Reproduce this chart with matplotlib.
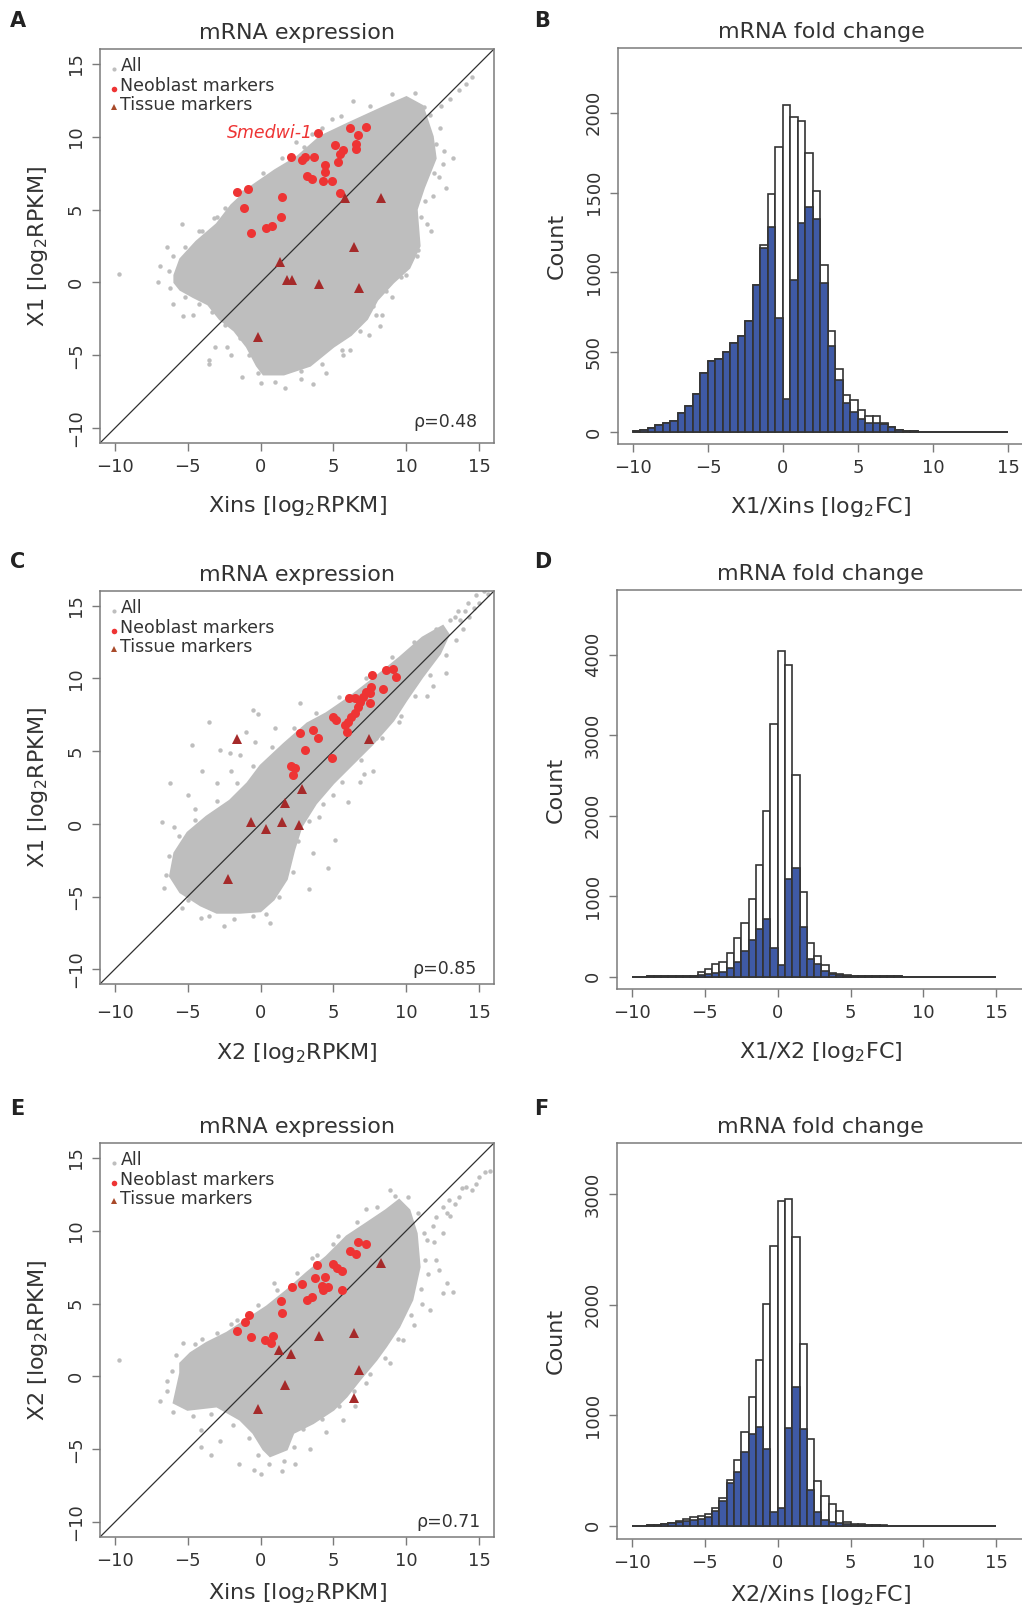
import numpy as np
import matplotlib.pyplot as plt

W, H = 1022, 1612

# ---------------- histogram counts, bins of width 0.5 from -10 to 15 ----------------
bin_left = np.arange(-10, 15, 0.5)

b_total = [6, 10, 27, 45, 55, 67, 121, 161, 236, 370,
           443, 456, 500, 558, 602, 697, 923, 1169, 1490, 1783,
           2052, 1975, 1948, 1746, 1513, 1046, 632, 397, 230, 199,
           136, 98, 100, 56, 31, 15, 7, 4, 3, 2,
           2, 1, 1, 1, 0, 0, 0, 0, 0, 0]
b_subset = [6, 10, 27, 45, 55, 67, 121, 161, 236, 370,
            443, 456, 500, 558, 602, 697, 923, 1152, 1287, 715,
            205, 954, 1312, 1412, 1333, 933, 538, 324, 184, 126,
            84, 59, 57, 52, 31, 15, 7, 4, 3, 2,
            2, 1, 1, 1, 0, 0, 0, 0, 0, 0]

d_total = [2, 2, 3, 3, 5, 6, 8, 10, 14, 62,
           91, 153, 182, 290, 484, 671, 960, 1387, 2054, 3139,
           4050, 3876, 2505, 1056, 414, 257, 145, 50, 30, 15,
           10, 8, 6, 5, 4, 3, 3, 2, 2, 2,
           2, 1, 1, 1, 1, 1, 0, 0, 0, 0]
d_subset = [2, 2, 3, 3, 5, 6, 8, 10, 14, 20,
            33, 40, 55, 112, 186, 319, 455, 588, 716, 352,
            145, 1213, 1354, 613, 224, 153, 75, 33, 20, 10,
            10, 8, 6, 5, 4, 3, 3, 2, 2, 2,
            2, 1, 1, 1, 1, 1, 0, 0, 0, 0]

f_total = [1, 2, 3, 5, 12, 28, 42, 57, 75, 90,
           105, 164, 254, 415, 595, 852, 1166, 1500, 2010, 2526,
           2934, 2955, 2616, 1646, 783, 404, 266, 194, 132, 36,
           20, 12, 8, 5, 3, 2, 2, 1, 1, 1,
           0, 0, 0, 0, 0, 0, 0, 0, 0, 0]
f_subset = [1, 2, 3, 5, 12, 22, 30, 42, 51, 60,
            80, 135, 221, 385, 484, 670, 828, 897, 694, 120,
            164, 888, 1253, 879, 320, 126, 51, 36, 21, 12,
            8, 5, 4, 3, 2, 2, 2, 1, 1, 1,
            0, 0, 0, 0, 0, 0, 0, 0, 0, 0]

# ---------------- scatter panels ----------------
# dense part of the grey cloud (outline), plus loose points around it
a_cloud_x = [-5.9, -5.5, -4.4, -3.0, -2.0, -0.6, 1.0, 2.5, 4.1, 6.0, 8.4, 10.0, 11.1, 11.8,
             12.0, 11.2, 10.7, 10.9, 10.2, 9.1, 8.0, 7.3, 6.2, 5.0, 3.4, 1.6, 0.2, -0.25,
             -0.94, -1.8, -2.8, -3.6, -4.6, -5.5, -5.9]
a_cloud_y = [0.5, 1.6, 2.8, 4.0, 5.3, 6.6, 7.7, 8.6, 10.0, 10.9, 12.0, 12.7, 12.1, 10.0,
             8.5, 6.5, 5.0, 2.5, 1.0, 0.0, -1.2, -2.5, -3.6, -4.4, -5.7, -6.3, -6.3, -5.7,
             -4.4, -3.3, -2.5, -1.5, -1.0, -0.5, 0.0]
a_out_x = [6.35, 4.87, 11.2, 12.0, 12.5, 13.2, 11.8, 11.7, 12.7, 14.5, 14.1, 13.6, 13.0, 12.4,
           -5.4, -6.4, -6.86, -9.7, -5.3, -4.6, -3.55, -3.55, -3.1, -2.3, -1.3, 1.68, 3.6,
           5.67, 6.1, 7.4, 8.2, 8.3, 7.7, 9.8, 9.5, 10.8, 11.0, 12.2, 2.4, 3.5, -3.0, -4.2,
           -7.0, -6.0, -2.0, 0.0, 2.8, 4.5, 9.0, 10.0,
           -5.2, -4.0, -3.2, -2.4, -1.2, 0.2, 1.5, 3.0, 4.2, 5.5, 7.5, 9.0, 10.6,
           11.6, 12.3, 12.6, 11.9, 11.3, 11.4, 10.7, 9.6, 8.6, 7.9, 6.8, 5.6, 4.2, 2.8,
           1.0, -0.2, -0.8, -1.4, -2.4, -3.3, -4.2, -5.2, -6.2, -6.3, -6.0]
a_out_y = [12.47, 11.2, 12.0, 9.5, 8.15, 8.5, 5.9, 3.5, 6.5, 14.1, 13.6, 13.2, 12.6, 12.1,
           4.0, 2.45, 1.1, 0.55, -2.3, -2.2, -5.3, -5.6, -4.4, -4.4, -6.5, -7.2, -6.95,
           -5.0, -4.6, -3.6, -3.0, -2.2, -1.6, 1.2, 1.4, 2.2, 4.5, 7.2, 9.6, 10.2, 4.5, 3.5,
           0.0, -1.5, -5.0, -6.9, -6.6, -6.2, -1.0, 0.5,
           2.4, 3.5, 4.4, 5.1, 6.2, 7.5, 8.5, 9.3, 10.6, 11.4, 12.1, 12.9, 13.0,
           11.5, 10.6, 9.0, 7.5, 5.6, 4.0, 1.8, 0.4, -0.6, -2.2, -3.3, -4.6, -5.6, -6.1,
           -6.8, -6.2, -5.0, -3.8, -2.9, -2.0, -1.5, -1.0, -0.4, 0.8, 1.8]
a_neo_x = [3.96, 6.12, 7.26, 6.69, 5.1, 5.67, 6.53, 6.53, 5.44, 5.28, 2.07, 2.82, 3.05, 3.66,
           4.41, 4.41, 3.16, 3.5, 4.25, 4.87, 5.48, -1.62, -0.89, 1.45, -1.1, 1.41, 0.36,
           0.77, -0.67]
a_neo_y = [10.24, 10.58, 10.65, 10.08, 9.4, 9.06, 9.47, 9.13, 8.78, 8.26, 8.6, 8.37, 8.6, 8.6,
           8.03, 7.58, 7.3, 7.08, 6.94, 6.94, 6.1, 6.21, 6.39, 5.87, 5.07, 4.5, 3.75, 3.87,
           3.37]
a_tis_x = [5.78, 8.28, 6.39, 1.34, 1.79, 2.14, 4.0, 6.76, -0.14]
a_tis_y = [5.76, 5.76, 2.41, 1.38, 0.18, 0.14, -0.08, -0.37, -3.76]

c_cloud_x = [-6.2, -5.5, -4.1, -3.0, -1.4, 0.0, 0.9, 1.8, 2.3, 2.8, 3.8, 5.0, 6.4, 7.7, 9.1,
             10.0, 11.1, 12.3, 12.9, 12.5, 11.1, 9.5, 7.9, 6.1, 4.5, 3.2, 1.6, 0.0, -0.9,
             -2.1, -3.7, -5.0, -5.9]
c_cloud_y = [-3.6, -4.7, -5.6, -6.1, -6.1, -6.0, -5.2, -3.8, -1.8, -0.2, 1.4, 2.8, 4.2, 5.5,
             7.1, 8.5, 10.1, 11.7, 13.0, 13.6, 12.8, 11.4, 10.1, 8.7, 7.6, 6.9, 5.5, 4.0,
             2.8, 1.6, 0.5, -0.6, -2.0]
c_out_x = [2.7, -0.5, -0.14, -3.56, -4.7, -2.76, -2.08, -1.4, -0.37, -4.0, -6.2, -5.0, 12.7,
           11.8, 11.4, 9.5, 7.9, 7.7, 7.1, 6.8, 5.0, -6.74, -5.9, -6.6, -5.4, -4.1, -2.5,
           0.66, -0.5, 5.1, 4.64, 3.3, 13.0, 13.5, 14.2, 14.8, 15.3, 13.3, -2.0, -3.0, -1.0,
           1.0, -4.5, 3.6, 4.0, 6.0,
           -5.0, -3.5, -1.8, 0.4, 1.3, 2.2, 2.6, 3.3, 4.3, 5.6, 6.9, 8.3, 9.6, 10.6, 11.6,
           12.7, 13.4, 13.9, 14.3, 14.6, 15.0, 15.6, 13.7, 14.0, 12.0, 10.5, 9.0, 7.2, 5.4,
           3.8, 2.3, 0.8, -0.5, -1.6, -3.0, -4.5, -5.6, -6.3, -6.5]
c_out_y = [8.28, 7.8, 7.58, 7.0, 5.4, 5.07, 4.84, 4.73, 5.64, 3.6, 2.8, 2.0, 10.4, 9.5, 8.8,
           7.0, 5.9, 3.6, 3.4, 2.9, 2.0, 0.16, -0.18, -4.4, -5.76, -6.44, -7.0, -6.8, -6.3,
           -1.1, -3.0, -4.5, 14.0, 14.6, 15.2, 15.7, 16.0, 14.2, 3.6, 2.8, 6.3, 6.6, 1.0,
           -2.0, 0.5, 1.5,
           -5.2, -6.3, -6.5, -6.2, -5.0, -3.3, -1.2, 0.2, 1.4, 2.9, 4.4, 5.9, 7.4, 8.8, 10.2,
           11.6, 12.6, 13.4, 14.2, 14.8, 15.2, 15.8, 14.0, 14.6, 13.4, 12.5, 11.5, 10.0, 8.7,
           7.6, 6.6, 5.3, 4.0, 2.8, 1.6, 0.3, -0.8, -2.2, -3.5]
c_neo_x = [7.67, 8.62, 9.08, 9.26, 8.4, 7.6, 7.49, 6.07, 6.46, 6.8, 7.03, 7.26, 7.53, 6.69,
           6.46, 6.0, 6.23, 4.94, 5.2, 5.78, 5.9, 2.7, 3.62, 3.96, 3.05, 4.87, 2.07, 2.37,
           2.25]
c_neo_y = [10.22, 10.6, 10.67, 10.1, 9.3, 9.42, 8.97, 8.63, 8.63, 8.4, 8.74, 9.08, 8.28, 8.06,
           7.6, 7.03, 7.37, 7.37, 7.14, 6.8, 6.28, 6.23, 6.46, 5.9, 5.1, 4.53, 3.96, 3.84,
           3.39]
c_tis_x = [-1.58, 7.44, 2.82, 1.68, -0.67, 0.36, 1.5, 2.64, -2.26]
c_tis_y = [5.82, 5.82, 2.41, 1.41, 0.16, -0.36, 0.16, -0.07, -3.78]

e_cloud_x = [-5.5, -4.8, -3.7, -2.3, -0.94, 0.43, 1.8, 3.16, 4.5, 5.9, 7.26, 8.6, 9.5, 10.2,
             10.7, 10.9, 10.4, 9.5, 8.6, 7.94, 6.8, 5.9, 5.0, 3.6, 2.25, 1.8, 0.66, 0.2,
             -0.5, -1.4, -3.0, -5.0, -5.95, -5.5]
e_cloud_y = [0.9, 1.6, 2.3, 3.0, 3.9, 4.8, 5.9, 7.1, 8.2, 9.6, 10.5, 11.4, 12.1, 11.4, 9.8,
             7.5, 5.25, 3.4, 2.05, 1.14, -0.23, -1.37, -2.28, -3.2, -3.87, -5.0, -5.46,
             -5.0, -3.87, -2.96, -2.05, -2.28, -1.8, 0.23]
e_out_x = [15.7, 15.0, 14.1, 13.6, 12.9, 12.5, 12.0, 11.8, 12.5, 11.4, 13.2, 12.5, 11.6, 11.1,
           9.76, 8.85, 7.26, 5.0, 3.5, 0.9, -5.3, -9.7, -6.86, -6.4, -4.1, -3.4, -4.1, -2.76,
           -1.5, -0.48, 0.0, 1.45, 2.36, 3.4, 5.67, 7.26, 8.85, 14.5, 13.0, 12.0, 11.5, 10.5,
           -2.0, -4.0, 4.5, 6.5,
           -5.8, -4.5, -3.0, -1.6, -0.2, 1.1, 2.5, 3.9, 5.3, 6.6, 8.0, 9.2, 10.1, 10.8, 11.2,
           11.3, 11.0, 10.3, 9.4, 8.5, 7.5, 6.4, 5.4, 4.2, 2.9, 2.3, 1.6, 0.6, -0.2, -0.8,
           -1.9, -3.4, -4.6, -6.0, -6.4, -6.1, 13.8, 12.8, 14.8, 15.4, 13.3, 11.9, 12.2, 12.8]
e_out_y = [14.1, 13.7, 13.0, 12.3, 12.1, 11.6, 10.9, 10.3, 9.8, 9.35, 5.8, 5.7, 4.55, 5.0,
           2.5, 12.8, 11.5, 9.1, 8.1, 6.4, 2.3, 1.14, -1.7, -0.34, -3.64, -5.35, -4.8, -4.44,
           -6.0, -6.4, -6.7, -6.5, -6.0, -5.0, -2.96, -0.46, 0.9, 12.8, 11.0, 8.0, 7.0, 3.5,
           3.6, 2.6, -3.8, -2.0,
           1.5, 2.2, 3.0, 3.9, 4.9, 5.9, 7.1, 8.3, 9.6, 10.6, 11.6, 12.4, 12.3, 11.2, 9.8,
           8.0, 6.0, 4.2, 2.6, 1.3, 0.2, -1.0, -2.0, -2.9, -3.6, -4.8, -5.8, -6.0, -5.4, -4.2,
           -3.3, -2.6, -2.7, -2.4, -1.0, 0.4, 12.9, 11.2, 13.2, 14.0, 11.8, 9.2, 7.3, 6.4]
e_neo_x = [-1.62, -1.05, -0.82, -0.67, 0.33, 0.72, 0.86, 1.38, 1.45, 2.14, 2.82, 3.16, 3.5,
           3.73, 3.84, 4.18, 4.3, 4.41, 4.64, 4.98, 5.26, 5.55, 5.55, 6.12, 6.53, 6.69, 7.26]
e_neo_y = [3.1, 3.72, 4.2, 2.7, 2.52, 2.3, 2.75, 5.15, 4.33, 6.12, 6.35, 5.26, 5.42, 6.73, 7.65,
           6.23, 5.9, 6.8, 6.12, 7.7, 7.42, 7.24, 5.9, 8.62, 8.4, 9.24, 9.08]
e_tis_x = [8.28, 1.3, 2.09, 4.0, 6.39, 6.76, 1.68, 6.39, -0.19]
e_tis_y = [7.8, 1.79, 1.57, 2.75, 2.98, 0.41, -0.57, -1.48, -2.23]

TXT = '#333333'
FRAME = '#7a7a7a'
GREY = '#bebebe'
RED = '#ee3434'
BROWN = '#a52a2a'
BLUE = '#3f5aa6'


def px_axes(fig, left, top, right, bottom):
    return fig.add_axes([left / W, 1 - bottom / H, (right - left) / W, (bottom - top) / H])


def style_axes(ax, xpad):
    for s in ax.spines.values():
        s.set_color(FRAME)
        s.set_linewidth(1.1)
    ax.tick_params(direction='out', length=5.8, width=1.0, color=FRAME,
                   labelcolor=TXT, labelsize=13, pad=5)
    ax.tick_params(axis='x', pad=xpad)
    ax.tick_params(axis='y', labelrotation=90)
    plt.setp(ax.get_yticklabels(), va='center')


def scatter_panel(ax, cx, cy, ox, oy, nx, ny, tx, ty, xlab, ylab, rho, rho_xy,
                  xpad=5, xlabpad=13):
    ax.fill(cx, cy, color=GREY, lw=1.5, ec=GREY, zorder=1)
    ax.plot(ox, oy, 'o', color=GREY, ms=3.2, mew=0, zorder=1)
    ax.plot([-11, 16], [-11, 16], color='#303030', lw=0.9, zorder=2)
    ax.plot(nx, ny, 'o', color=RED, ms=6.5, mew=0, zorder=3)
    ax.plot(tx, ty, '^', color=BROWN, ms=7.5, mew=0, zorder=3)
    ax.set_xlim(-11, 16)
    ax.set_ylim(-11, 16)
    ticks = [-10, -5, 0, 5, 10, 15]
    ax.set_xticks(ticks)
    ax.set_yticks(ticks)
    style_axes(ax, xpad)
    ax.set_title('mRNA expression', fontsize=16, color=TXT, pad=7)
    ax.set_xlabel(xlab, fontsize=16, color=TXT, labelpad=xlabpad)
    ax.set_ylabel(ylab, fontsize=16, color=TXT, labelpad=12)
    # legend drawn by hand, R style
    ax.plot([0.036], [0.950], 'o', color=GREY, ms=3, mew=0, transform=ax.transAxes)
    ax.plot([0.036], [0.899], 'o', color=RED, ms=4, mew=0, transform=ax.transAxes)
    ax.plot([0.036], [0.852], '^', color='#a84a2a', ms=4.5, mew=0, transform=ax.transAxes)
    for y, s in zip([0.944, 0.893, 0.845], ['All', 'Neoblast markers', 'Tissue markers']):
        ax.text(0.052, y, s, fontsize=12.5, color=TXT, transform=ax.transAxes,
                va='baseline', ha='left')
    ax.text(rho_xy[0], rho_xy[1], rho, fontsize=12.5, color=TXT,
            transform=ax.transAxes, ha='right', va='baseline')


def hist_panel(ax, total, subset, xlim, ylim, yticks, xlab, xlabpad=13):
    ax.bar(bin_left, total, width=0.5, align='edge', color='white',
           edgecolor='#333333', linewidth=1.2, zorder=2)
    ax.bar(bin_left, subset, width=0.5, align='edge', color=BLUE,
           edgecolor='#333333', linewidth=1.2, zorder=3)
    ax.set_xlim(*xlim)
    ax.set_ylim(*ylim)
    ax.set_xticks([-10, -5, 0, 5, 10, 15])
    ax.set_yticks(yticks)
    style_axes(ax, 5)
    ax.set_title('mRNA fold change', fontsize=16, color=TXT, pad=7)
    ax.set_xlabel(xlab, fontsize=16, color=TXT, labelpad=xlabpad)
    ax.set_ylabel('Count', fontsize=16, color=TXT, labelpad=13)


fig = plt.figure(figsize=(W / 100, H / 100), dpi=100)

ax_a = px_axes(fig, 100, 49, 494, 443)
scatter_panel(ax_a, a_cloud_x, a_cloud_y, a_out_x, a_out_y, a_neo_x, a_neo_y,
              a_tis_x, a_tis_y, r'Xins [log$_2$RPKM]', r'X1 [log$_2$RPKM]',
              'ρ=0.48', (0.957, 0.041))
ax_a.text(3.59, 9.88, 'Smedwi-1', color=RED, fontsize=12.5, style='italic',
          ha='right', va='baseline')

ax_c = px_axes(fig, 100, 591, 494, 984)
scatter_panel(ax_c, c_cloud_x, c_cloud_y, c_out_x, c_out_y, c_neo_x, c_neo_y,
              c_tis_x, c_tis_y, r'X2 [log$_2$RPKM]', r'X1 [log$_2$RPKM]',
              'ρ=0.85', (0.957, 0.026), xpad=8.5, xlabpad=14)

ax_e = px_axes(fig, 100, 1143, 494, 1537)
scatter_panel(ax_e, e_cloud_x, e_cloud_y, e_out_x, e_out_y, e_neo_x, e_neo_y,
              e_tis_x, e_tis_y, r'Xins [log$_2$RPKM]', r'X2 [log$_2$RPKM]',
              'ρ=0.71', (0.965, 0.026), xpad=5, xlabpad=8)

ax_b = px_axes(fig, 618, 48, 1024, 444)
hist_panel(ax_b, b_total, b_subset, (-11, 16.07), (-75, 2406),
           [0, 500, 1000, 1500, 2000], r'X1/Xins [log$_2$FC]')

ax_d = px_axes(fig, 617, 590, 1024, 989)
hist_panel(ax_d, d_total, d_subset, (-11.03, 16.9), (-153, 4804),
           [0, 1000, 2000, 3000, 4000], r'X1/X2 [log$_2$FC]')

ax_f = px_axes(fig, 617, 1143, 1024, 1539)
hist_panel(ax_f, f_total, f_subset, (-11.03, 16.9), (-120, 3462),
           [0, 1000, 2000, 3000], r'X2/Xins [log$_2$FC]', xlabpad=8)

for s, x, y in [('A', 10, 27), ('B', 534, 27), ('C', 10, 568),
                ('D', 534, 568), ('E', 10, 1115), ('F', 534, 1115)]:
    fig.text(x / W, 1 - y / H, s, fontsize=15, fontweight='bold', color='#222222',
             va='baseline', ha='left')

fig.savefig('out.png', dpi=100, facecolor='white')
